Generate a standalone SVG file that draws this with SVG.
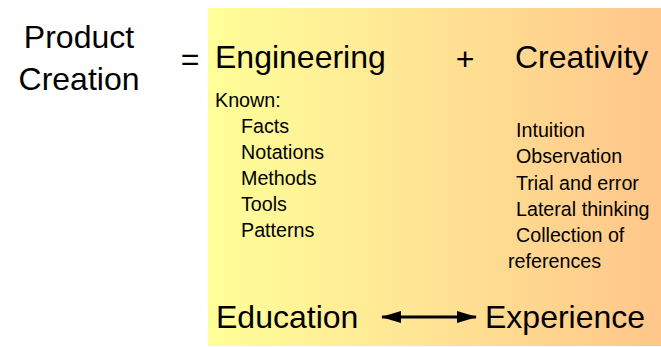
<svg xmlns="http://www.w3.org/2000/svg" width="661" height="347" viewBox="0 0 661 347">
<style>
text{font-family:"Liberation Sans",Arial,sans-serif;fill:#000}
.big{font-size:32px}
.small{font-size:19.7px}
</style>
<defs>
<linearGradient id="bg" x1="0" y1="0" x2="1" y2="0">
<stop offset="0" stop-color="#FFFF99"/>
<stop offset="0.5" stop-color="#FFE394"/>
<stop offset="1" stop-color="#FFC68A"/>
</linearGradient>
<marker id="ah" markerWidth="20" markerHeight="12" refX="19" refY="6" orient="auto-start-reverse" markerUnits="userSpaceOnUse">
<path d="M0,0 L20,6 L0,12 Z" fill="#000"/>
</marker>
</defs>
<rect x="208" y="8" width="453" height="338" fill="url(#bg)"/>
<g id="product">
<text class="big" x="79" y="48" text-anchor="middle">Product</text>
<text class="big" x="79" y="90" text-anchor="middle">Creation</text>
</g>
<text class="big" x="190" y="70" text-anchor="middle">=</text>
<g id="engineering">
<text class="big" x="215" y="68">Engineering</text>
<text class="small" x="215" y="107">Known:</text>
<text class="small" x="241" y="133">Facts</text>
<text class="small" x="241" y="159">Notations</text>
<text class="small" x="241" y="185">Methods</text>
<text class="small" x="241" y="211">Tools</text>
<text class="small" x="241" y="237">Patterns</text>
</g>
<text class="big" x="465" y="70" text-anchor="middle">+</text>
<g id="creativity">
<text class="big" x="515" y="68">Creativity</text>
<text class="small" x="516" y="137">Intuition</text>
<text class="small" x="516" y="163">Observation</text>
<text class="small" x="516" y="190">Trial and error</text>
<text class="small" x="516" y="216">Lateral thinking</text>
<text class="small" x="516" y="242">Collection of</text>
<text class="small" x="508" y="268">references</text>
</g>
<g id="education"><text class="big" x="216" y="328">Education</text></g>
<g id="experience"><text class="big" x="485" y="328">Experience</text></g>
<g id="connectors">
<line x1="382" y1="317" x2="476" y2="317" stroke="#000" stroke-width="3" marker-start="url(#ah)" marker-end="url(#ah)"/>
</g>
</svg>
